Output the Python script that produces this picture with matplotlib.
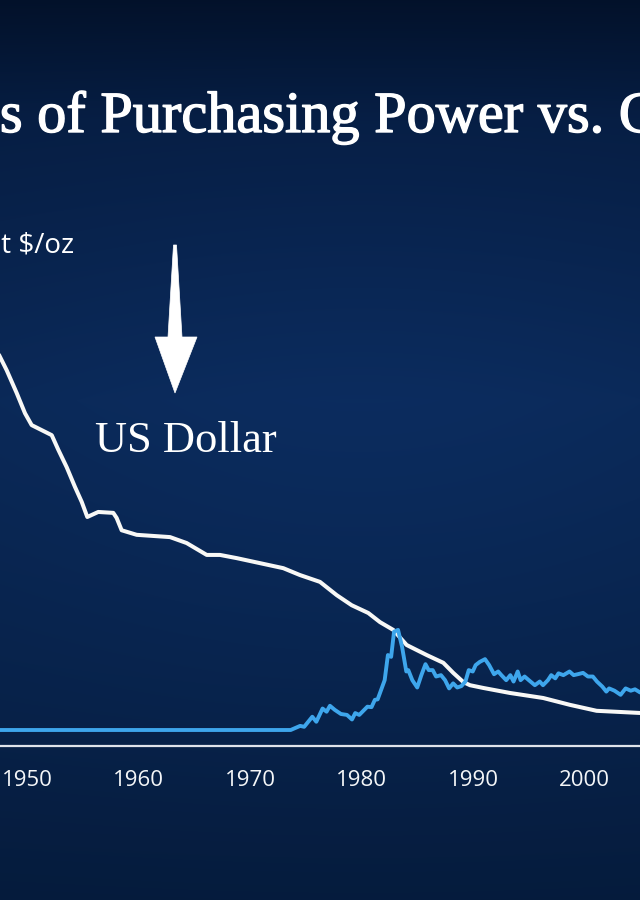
import numpy as np
import matplotlib
matplotlib.use("Agg")
import matplotlib.pyplot as plt
import matplotlib.patheffects as pe
from matplotlib.patches import Polygon

# ---------------- data ----------------
tick_years = [1950, 1960, 1970, 1980, 1990, 2000]
tick_labels = ["1950", "1960", "1970", "1980", "1990", "2000"]

dollar_years = [1947.3, 1948.18, 1949.08, 1949.82, 1950.42, 1951.32, 1952.22, 1952.81,
                1953.56, 1954.30, 1954.91, 1955.41, 1956.39, 1957.74, 1958.04, 1958.49,
                1959.84, 1962.83, 1964.32, 1966.12, 1967.31, 1968.81, 1970.90, 1972.99,
                1974.48, 1976.28, 1977.78, 1979.12, 1980.61, 1981.66, 1982.85, 1984.05,
                1985.85, 1987.34, 1988.23, 1989.13, 1989.73, 1990.92, 1993.32, 1996.30,
                1998.70, 2001.09, 2005.2]
dollar_values = [865, 822, 772, 728, 702, 691, 680, 648,
                 610, 567, 534, 501, 512, 510, 499, 472,
                 462, 457, 444, 418, 418, 411, 400, 389,
                 374, 359, 330, 308, 291, 271, 254, 221,
                 199, 182, 160, 140, 133, 127, 116, 105,
                 90, 77, 72]

gold_years = [1947.0, 1973.65, 1974.50, 1974.86, 1975.59, 1975.95, 1976.51, 1976.87,
              1977.17, 1977.61, 1978.16, 1978.70, 1979.15, 1979.44, 1979.80, 1980.53,
              1980.90, 1981.20, 1981.45, 1981.81, 1982.08, 1982.37, 1982.66, 1982.92,
              1983.28, 1983.64, 1984.02, 1984.20, 1984.56, 1985.00, 1985.37, 1985.74,
              1986.03, 1986.39, 1986.69, 1987.13, 1987.50, 1987.86, 1988.22, 1988.59,
              1988.96, 1989.32, 1989.62, 1989.98, 1990.24, 1990.61, 1991.08, 1991.45,
              1991.89, 1992.26, 1992.55, 1992.98, 1993.35, 1993.64, 1994.01, 1994.27,
              1994.63, 1995.01, 1995.55, 1995.99, 1996.28, 1996.72, 1997.02, 1997.38,
              1997.67, 1998.11, 1998.66, 1999.03, 1999.39, 1999.87, 2000.31, 2000.75,
              2001.12, 2001.60, 2001.96, 2002.21, 2002.69, 2003.24, 2003.69, 2004.15,
              2004.53, 2005.00]
gold_values = [35, 35, 44, 42, 64, 53, 82, 75,
               88, 79, 70, 68, 58, 72, 68, 86,
               85, 101, 102, 126, 144, 199, 195, 250,
               254, 217, 163, 166, 144, 128, 155, 179,
               166, 166, 152, 155, 144, 126, 137, 128,
               131, 141, 166, 163, 177, 184, 190, 177,
               157, 163, 155, 144, 155, 141, 163, 144,
               152, 144, 133, 141, 133, 144, 155, 148,
               159, 155, 163, 155, 157, 160, 152, 152,
               141, 130, 119, 126, 121, 112, 126, 121,
               124, 117]

title_text = "Loss of Purchasing Power vs. Gold"
title_hidden = "Los"
ylabel_text = "Cost $/oz"
dollar_label = "US Dollar"

# ---------------- figure ----------------
W, H, DPI = 640, 900, 100
fig = plt.figure(figsize=(W / DPI, H / DPI), dpi=DPI)

# background gradient (navy)
yy, xx = np.mgrid[0:H, 0:W].astype(float)
stops_y = [0, 120, 400, 700, 900]
stops_c = [(3, 19, 46), (7, 32, 72), (11, 42, 90), (8, 36, 78), (6, 30, 66)]
bg = np.zeros((H, W, 3))
for k in range(3):
    col = np.interp(yy[:, 0], stops_y, [c[k] for c in stops_c])
    bg[:, :, k] = col[:, None]
glow = np.exp(-(((xx - 360) / 450) ** 2 + ((yy - 430) / 350) ** 2))
bg = bg * (0.9 + 0.15 * glow[:, :, None])
bg = np.clip(bg / 255.0, 0, 1)
ax_bg = fig.add_axes([0, 0, 1, 1])
ax_bg.imshow(bg, aspect="auto", extent=[0, 1, 0, 1], zorder=0)
ax_bg.set_axis_off()

# main chart axes
ax = fig.add_axes([0, 154 / H, 1, 746 / H])
ax.patch.set_alpha(0)
ax.set_xlim(1947.58, 2004.98)
ax.set_ylim(0, 1632)
ax.plot(dollar_years, dollar_values, color="#f8f8f6", lw=2.9, zorder=3,
        solid_joinstyle="round", solid_capstyle="round")
ax.plot(gold_years, gold_values, color="#3ea6ec", lw=2.8, zorder=4,
        solid_joinstyle="round", solid_capstyle="round")

for s in ["top", "left", "right"]:
    ax.spines[s].set_visible(False)
ax.spines["bottom"].set_color("#dfe3ea")
ax.spines["bottom"].set_linewidth(1.6)
ax.set_yticks([])
ax.set_xticks(tick_years)
ax.set_xticklabels(tick_labels, fontfamily="Open Sans", fontsize=16, color="#f4f6f8")
ax.tick_params(axis="x", length=0, pad=17)

# title (cropped at both sides like the reference)
renderer = fig.canvas.get_renderer()
tfont = dict(fontsize=42, fontfamily="Liberation Serif")
t_full = fig.text(0, 0, title_text, **tfont)
t_rest = fig.text(0, 0, title_text[len(title_hidden):], **tfont)
offset = (t_full.get_window_extent(renderer).width
          - t_rest.get_window_extent(renderer).width)
t_full.remove()
t_rest.remove()
fig.text((0 - offset) / W, 1 - 132 / H, title_text, color="white",
         ha="left", va="baseline",
         path_effects=[pe.withStroke(linewidth=1.0, foreground="white")], **tfont)

# unit label
fig.text(74 / W, 1 - 253 / H, ylabel_text, fontsize=20, fontfamily="Open Sans",
         color="white", ha="right", va="baseline")

# US Dollar label and arrow
fig.text(95 / W, 1 - 452 / H, dollar_label, fontsize=32, fontfamily="Liberation Serif",
         color="white", ha="left", va="baseline")

arrow_px = [(173.5, 245), (176.5, 245), (182, 337), (197, 337), (175, 393),
            (155, 337), (168, 337)]
arrow_pts = [(x / W, 1 - y / H) for x, y in arrow_px]
fig.patches.append(Polygon(arrow_pts, closed=True, transform=fig.transFigure,
                           facecolor="white", edgecolor="white", lw=0.5, zorder=5))

fig.savefig("out.png", dpi=DPI)
